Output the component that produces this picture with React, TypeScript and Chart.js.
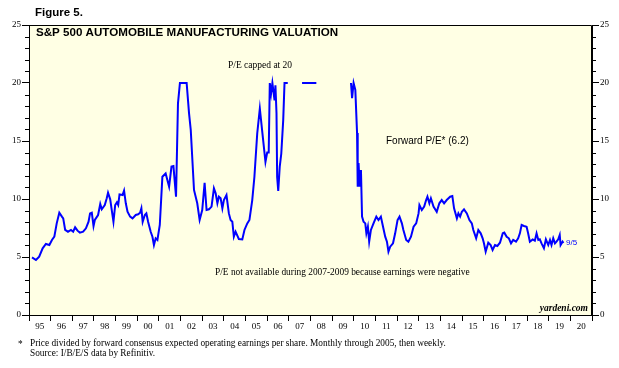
import React, { useEffect, useRef } from 'react';
import { Chart, registerables } from 'chart.js';

Chart.register(...registerables);

// Decimal-year dates and forward P/E values (capped at 20; null = not available)
const dates: number[] = [
  1995.14, 1995.32, 1995.47, 1995.63, 1995.78, 1995.94, 1996.06, 1996.17, 1996.28, 1996.40,
  1996.52, 1996.58, 1996.67, 1996.80, 1996.94, 1997.04, 1997.13, 1997.24, 1997.35, 1997.50,
  1997.63, 1997.75, 1997.82, 1997.90, 1997.98, 1998.04, 1998.19, 1998.29, 1998.36, 1998.50,
  1998.59, 1998.65, 1998.75, 1998.81, 1998.90, 1998.98, 1999.06, 1999.12, 1999.18, 1999.32,
  1999.39, 1999.47, 1999.55, 1999.67, 1999.78, 1999.93, 2000.04, 2000.13, 2000.19, 2000.25,
  2000.35, 2000.42, 2000.50, 2000.62, 2000.70, 2000.77, 2000.85, 2000.93, 2001.04, 2001.16,
  2001.31, 2001.47, 2001.58, 2001.67, 2001.79, 2001.88, 2001.97, 2002.28, 2002.39, 2002.47,
  2002.62, 2002.77, 2002.88, 2003.00, 2003.11, 2003.20, 2003.31, 2003.43, 2003.54, 2003.62,
  2003.70, 2003.77, 2003.85, 2003.93, 2004.00, 2004.12, 2004.23, 2004.31, 2004.39, 2004.46,
  2004.54, 2004.69, 2004.85, 2004.95, 2005.08, 2005.18, 2005.31, 2005.41, 2005.54, 2005.66,
  2005.78, 2005.92, 2006.00, 2006.07, 2006.12, 2006.18, 2006.24, 2006.34, 2006.38, 2006.43,
  2006.46, 2006.51, 2006.58, 2006.65, 2006.74, 2006.80, 2006.95, 2007.30, 2007.61, 2008.27,
  2009.00, 2009.87, 2009.92, 2009.99, 2010.07, 2010.15, 2010.18, 2010.22, 2010.27, 2010.33,
  2010.38, 2010.45, 2010.53, 2010.58, 2010.65, 2010.71, 2010.79, 2010.91, 2011.04, 2011.14,
  2011.25, 2011.35, 2011.45, 2011.53, 2011.60, 2011.68, 2011.81, 2011.91, 2012.02, 2012.11,
  2012.22, 2012.29, 2012.42, 2012.52, 2012.64, 2012.76, 2012.88, 2012.99, 2013.03, 2013.14,
  2013.25, 2013.34, 2013.40, 2013.49, 2013.56, 2013.68, 2013.83, 2013.95, 2014.06, 2014.17,
  2014.29, 2014.45, 2014.55, 2014.63, 2014.76, 2014.83, 2014.91, 2014.99, 2015.09, 2015.22,
  2015.34, 2015.45, 2015.52, 2015.65, 2015.75, 2015.86, 2015.95, 2016.01, 2016.09, 2016.21,
  2016.32, 2016.41, 2016.52, 2016.63, 2016.75, 2016.88, 2016.95, 2017.06, 2017.16, 2017.26,
  2017.36, 2017.49, 2017.59, 2017.67, 2017.75, 2017.86, 2017.98, 2018.05, 2018.13, 2018.26,
  2018.36, 2018.44, 2018.52, 2018.59, 2018.67, 2018.78, 2018.87, 2018.98, 2019.06, 2019.13,
  2019.21, 2019.29, 2019.36, 2019.44, 2019.51, 2019.55, 2019.64, 2019.68,
];

const pe: (number | null)[] = [
  4.97, 4.74, 5.03, 5.75, 6.12, 6.03, 6.47, 6.75, 7.9, 8.82,
  8.48, 8.33, 7.33, 7.18, 7.33, 7.18, 7.56, 7.27, 7.1, 7.18,
  7.47, 8.04, 8.76, 8.82, 7.67, 8.19, 8.62, 9.57, 9.11, 9.48,
  10.06, 10.54, 9.97, 9.2, 8.04, 9.48, 9.71, 9.48, 10.4, 10.34,
  10.72, 9.63, 8.9, 8.48, 8.33, 8.62, 8.68, 8.82, 9.2, 8.04,
  8.62, 8.76, 8.04, 7.18, 6.75, 6.03, 6.61, 6.47, 7.76, 11.92,
  12.2, 11.06, 12.8, 12.84, 10.2, 18.25, 20, 20, 17.4, 15.95,
  10.78, 9.63, 8.19, 9.05, 11.4, 9.05, 9.11, 9.34, 10.92, 10.49,
  9.63, 10.2, 10.06, 9.2, 9.91, 10.34, 8.76, 8.19, 8.04, 6.75,
  7.18, 6.55, 6.52, 7.33, 7.9, 8.19, 9.91, 11.92, 15.66, 17.8,
  15.66, 13.2, 14.0, 14.0, 20, 19.1, 20, 18.5, 19.8, 17.4,
  11.9, 10.7, 12.8, 13.9, 16.8, 20, 20, null, 20, 20,
  null, 20, 18.7, 20, 19.4, 15.7, 11.06, 13.1, 11.06, 12.5,
  8.48, 8.04, 7.9, 7.04, 7.61, 6.32, 7.33, 7.9, 8.48, 8.19,
  8.48, 7.61, 6.75, 6.32, 5.46, 5.89, 6.18, 7.04, 8.19, 8.48,
  7.9, 7.33, 6.47, 6.32, 6.75, 7.61, 7.9, 8.76, 9.48, 9.05,
  9.34, 9.91, 10.2, 9.63, 10.06, 9.34, 8.9, 9.63, 9.91, 9.63,
  9.91, 10.2, 10.26, 9.2, 8.33, 8.76, 8.48, 8.9, 9.11, 8.76,
  8.19, 7.9, 7.33, 6.61, 7.33, 7.04, 6.61, 6.18, 5.46, 6.23,
  6.03, 5.6, 6.03, 5.95, 6.23, 7.04, 7.1, 6.75, 6.61, 6.18,
  6.47, 6.32, 6.61, 7.04, 7.76, 7.67, 7.61, 7.04, 6.32, 6.52,
  6.41, 7.04, 6.47, 6.52, 6.18, 5.75, 6.52, 6.03, 6.47, 6.03,
  6.61, 6.18, 6.32, 6.52, 6.9, 6.03, 6.32, 6.2,
];

const yearLabels: string[] = [
  '95', '96', '97', '98', '99', '00', '01', '02', '03', '04', '05', '06', '07',
  '08', '09', '10', '11', '12', '13', '14', '15', '16', '17', '18', '19', '20',
];
const yTickValues: number[] = [0, 5, 10, 15, 20, 25];
const yMinorValues: number[] = [1, 2, 3, 4, 6, 7, 8, 9, 11, 12, 13, 14, 16, 17, 18, 19, 21, 22, 23, 24];

const X_MIN = 1995;
const X_MAX = 2021;
const Y_MIN = 0;
const Y_MAX = 25;

const figureLabel = 'Figure 5.';
const chartTitle = 'S&P 500 AUTOMOBILE MANUFACTURING VALUATION';
const cappedNote = 'P/E capped at 20';
const seriesLabel = 'Forward P/E* (6.2)';
const naNote = 'P/E not available during 2007-2009 because earnings were negative';
const lastDateLabel = '9/5';
const sourceSite = 'yardeni.com';
const footnote1 = 'Price divided by forward consensus expected operating earnings per share. Monthly through 2005, then weekly.';
const footnote2 = 'Source: I/B/E/S data by Refinitiv.';

const SERIF = '"Liberation Serif", "Times New Roman", serif';
const SANS = '"Liberation Sans", Arial, sans-serif';

const decorPlugin = {
  id: 'decor',
  beforeDraw(chart: any) {
    const { ctx, chartArea: a } = chart;
    ctx.save();
    ctx.fillStyle = '#ffffff';
    ctx.fillRect(0, 0, chart.width, chart.height);
    ctx.fillStyle = '#ffffe4';
    ctx.fillRect(a.left, a.top, a.right - a.left, a.bottom - a.top);
    ctx.restore();
  },
  afterDraw(chart: any) {
    const { ctx, chartArea: a } = chart;
    const ys = chart.scales.y;
    ctx.save();
    // frame
    ctx.strokeStyle = '#000';
    ctx.lineWidth = 1;
    ctx.beginPath();
    ctx.moveTo(a.left + 0.5, a.bottom);
    ctx.lineTo(a.left + 0.5, a.top + 0.5);
    ctx.lineTo(a.right - 0.5, a.top + 0.5);
    ctx.lineTo(a.right - 0.5, a.bottom);
    ctx.stroke();
    // minor ticks
    ctx.beginPath();
    yMinorValues.forEach((v) => {
      const py = Math.round(ys.getPixelForValue(v)) + 0.5;
      ctx.moveTo(a.left - 4, py);
      ctx.lineTo(a.left, py);
      ctx.moveTo(a.right, py);
      ctx.lineTo(a.right + 4, py);
    });
    ctx.stroke();

    ctx.textBaseline = 'middle';
    ctx.textAlign = 'left';
    ctx.fillStyle = '#000';
    ctx.font = `bold 11.5px ${SANS}`;
    ctx.fillText(figureLabel, 35, 13);
    ctx.font = `bold 11.6px ${SANS}`;
    ctx.fillText(chartTitle, 36, 33);

    ctx.font = `9.5px ${SERIF}`;
    ctx.fillText(cappedNote, 228, 65);
    ctx.font = `9.4px ${SERIF}`;
    ctx.fillText(naNote, 215, 273);

    ctx.font = `10px ${SANS}`;
    ctx.fillText(seriesLabel, 386, 141);

    ctx.fillStyle = '#0000ff';
    ctx.font = `8px ${SANS}`;
    ctx.fillText(lastDateLabel, 566, 243);

    ctx.fillStyle = '#000';
    ctx.font = `italic bold 9.5px ${SERIF}`;
    ctx.textAlign = 'right';
    ctx.fillText(sourceSite, 588, 309);

    ctx.textAlign = 'left';
    ctx.font = `9.3px ${SERIF}`;
    ctx.fillText('*', 18, 345);
    ctx.fillText(footnote1, 30, 344);
    ctx.fillText(footnote2, 30, 354);
    ctx.restore();
  },
};

const yAxis = (position: 'left' | 'right', width: number) => ({
  type: 'linear' as const,
  position,
  min: Y_MIN,
  max: Y_MAX,
  afterBuildTicks: (s: any) => {
    s.ticks = yTickValues.map((v) => ({ value: v }));
  },
  afterFit: (s: any) => {
    s.width = width;
  },
  grid: { drawOnChartArea: false, tickLength: 7, color: '#000', lineWidth: 1 },
  border: { display: true, color: '#000', width: 1 },
  ticks: {
    padding: 1,
    color: '#000',
    font: { family: SERIF, size: 9 },
    callback: (v: any) => String(v),
  },
});

export default function App() {
  const ref = useRef<HTMLCanvasElement>(null);
  useEffect(() => {
    if (!ref.current) return;
    const chart = new Chart(ref.current, {
      type: 'line',
      data: {
        datasets: [
          {
            label: seriesLabel,
            data: dates.map((d, i) => ({ x: d, y: pe[i] })) as any,
            borderColor: '#0000ff',
            borderWidth: 2,
            pointRadius: 0,
            tension: 0,
            spanGaps: false,
            fill: false,
          },
        ],
      },
      options: {
        responsive: false,
        animation: false,
        devicePixelRatio: 1,
        layout: { padding: { top: 25, left: 0, right: 0, bottom: 0 } },
        plugins: { legend: { display: false }, tooltip: { enabled: false } },
        scales: {
          x: {
            type: 'linear',
            min: X_MIN,
            max: X_MAX,
            afterBuildTicks: (s: any) => {
              const t: any[] = [];
              for (let y = X_MIN; y <= X_MAX; y++) {
                t.push({ value: y });
                if (y < X_MAX) t.push({ value: y + 0.5 });
              }
              s.ticks = t;
            },
            afterFit: (s: any) => {
              s.height = 53;
            },
            grid: {
              drawOnChartArea: false,
              tickLength: 6,
              lineWidth: 1,
              color: (c: any) =>
                c.tick && Number.isInteger(c.tick.value) ? '#000' : 'rgba(0,0,0,0)',
            },
            border: { display: true, color: '#000', width: 1 },
            ticks: {
              autoSkip: false,
              maxRotation: 0,
              minRotation: 0,
              padding: 0,
              color: '#000',
              font: { family: SERIF, size: 9 },
              callback: (v: any) => {
                const n = Number(v);
                if (Math.abs((n % 1) - 0.5) < 1e-6) return yearLabels[Math.floor(n) - X_MIN] ?? '';
                return '';
              },
            },
          } as any,
          y: yAxis('left', 29) as any,
          y2: yAxis('right', 27) as any,
        },
      },
      plugins: [decorPlugin],
    });
    return () => chart.destroy();
  }, []);

  return (
    <div style={{ position: 'fixed', left: 0, top: 0, width: 619, height: 368, background: '#fff' }}>
      <canvas ref={ref} width={619} height={368} style={{ display: 'block', width: 619, height: 368 }} />
    </div>
  );
}
